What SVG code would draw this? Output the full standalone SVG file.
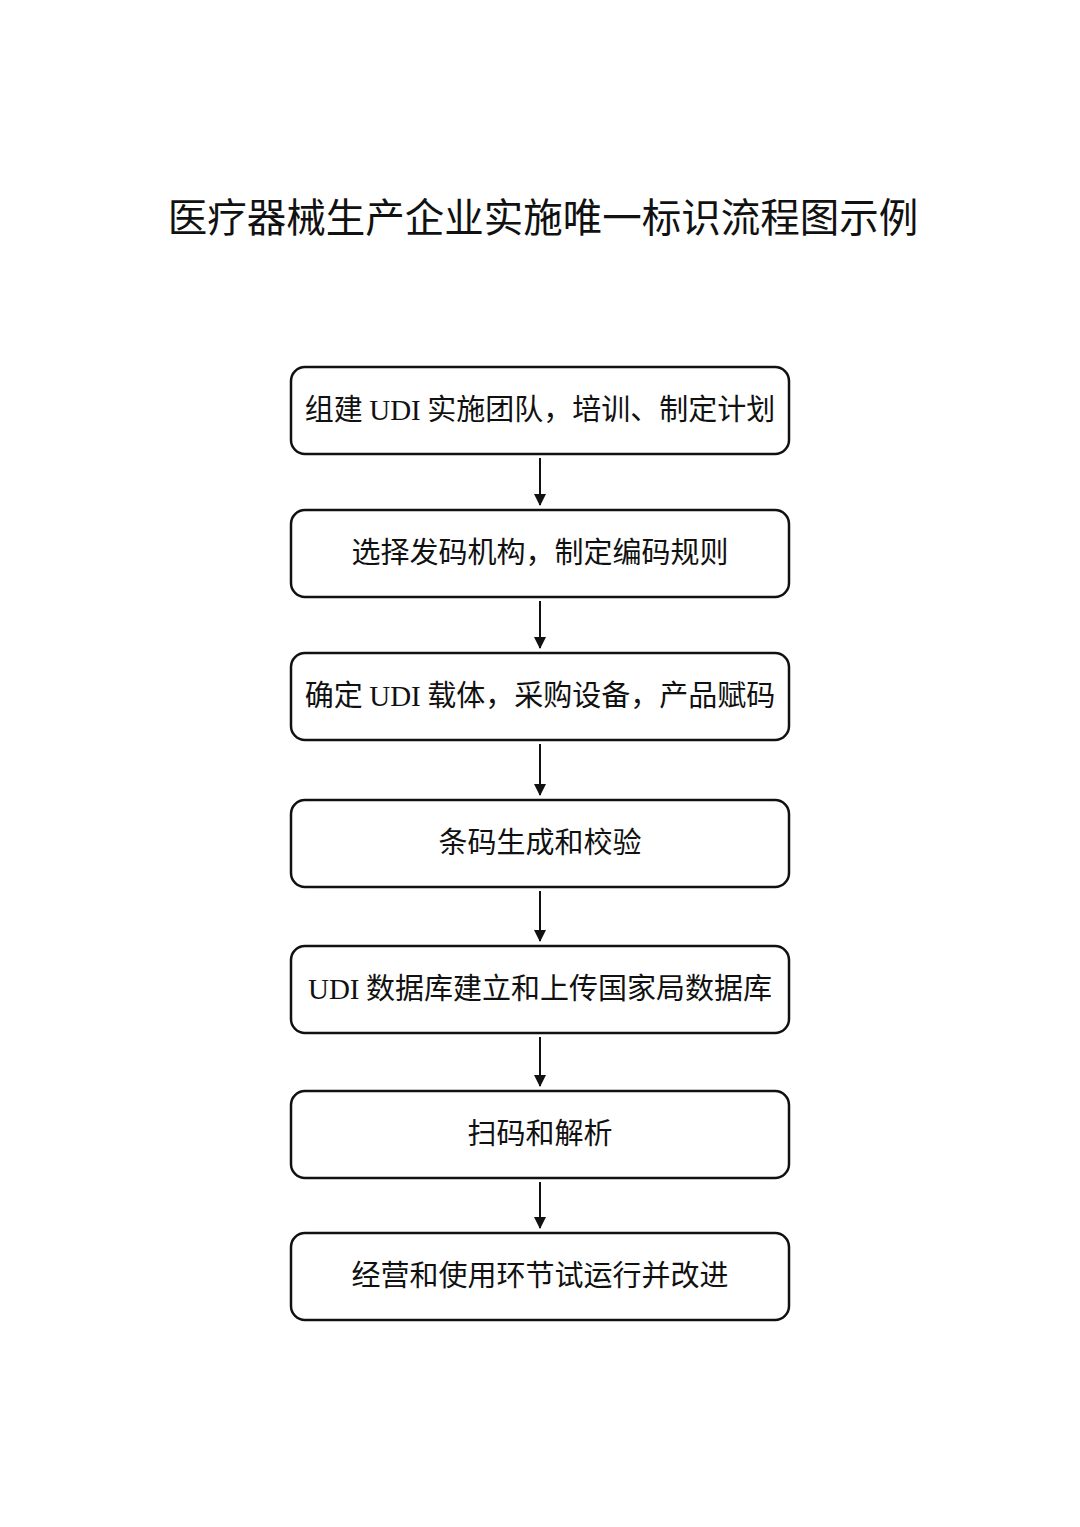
<svg xmlns="http://www.w3.org/2000/svg" width="1080" height="1527" viewBox="0 0 1080 1527">
<defs>
<style>
.box{fill:#fff;stroke:#111;stroke-width:2.5}
.t{font-family:"Noto Sans CJK SC","Liberation Sans",sans-serif;font-size:29px;fill:#111;text-anchor:middle}
.s{font-family:"Liberation Serif","Noto Sans CJK SC",serif}
.title{font-family:"Noto Sans CJK SC","Liberation Sans",sans-serif;font-size:39.5px;fill:#111;text-anchor:middle;font-weight:400}
.c{stroke:#111;stroke-width:2;fill:none}
</style>
<marker id="ah" markerWidth="12" markerHeight="12" refX="11" refY="6" orient="auto" markerUnits="userSpaceOnUse">
<path d="M0,0 L12,6 L0,12 z" fill="#111"/>
</marker>
</defs>
<rect width="1080" height="1527" fill="#fff"/>
<text class="title" x="543" y="232">医疗器械生产企业实施唯一标识流程图示例</text>
<g id="connectors">
<line class="c" x1="540" y1="458" x2="540" y2="505" marker-end="url(#ah)"/>
<line class="c" x1="540" y1="601" x2="540" y2="648" marker-end="url(#ah)"/>
<line class="c" x1="540" y1="744" x2="540" y2="795" marker-end="url(#ah)"/>
<line class="c" x1="540" y1="891" x2="540" y2="941" marker-end="url(#ah)"/>
<line class="c" x1="540" y1="1037" x2="540" y2="1086" marker-end="url(#ah)"/>
<line class="c" x1="540" y1="1182" x2="540" y2="1228" marker-end="url(#ah)"/>
</g>
<g id="n1"><rect class="box" x="291" y="367" width="498" height="87" rx="14"/><text class="t" x="540" y="420">组建 <tspan class="s">UDI</tspan> 实施团队，培训、制定计划</text></g>
<g id="n2"><rect class="box" x="291" y="510" width="498" height="87" rx="14"/><text class="t" x="540" y="563">选择发码机构，制定编码规则</text></g>
<g id="n3"><rect class="box" x="291" y="653" width="498" height="87" rx="14"/><text class="t" x="540" y="706">确定 <tspan class="s">UDI</tspan> 载体，采购设备，产品赋码</text></g>
<g id="n4"><rect class="box" x="291" y="800" width="498" height="87" rx="14"/><text class="t" x="540" y="853">条码生成和校验</text></g>
<g id="n5"><rect class="box" x="291" y="946" width="498" height="87" rx="14"/><text class="t" x="540" y="999"><tspan class="s">UDI</tspan> 数据库建立和上传国家局数据库</text></g>
<g id="n6"><rect class="box" x="291" y="1091" width="498" height="87" rx="14"/><text class="t" x="540" y="1144">扫码和解析</text></g>
<g id="n7"><rect class="box" x="291" y="1233" width="498" height="87" rx="14"/><text class="t" x="540" y="1286">经营和使用环节试运行并改进</text></g>
</svg>
